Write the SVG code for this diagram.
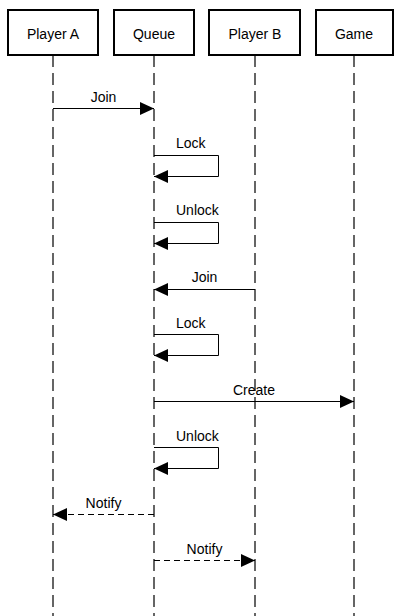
<svg xmlns="http://www.w3.org/2000/svg" width="400" height="616" viewBox="0 0 400 616">
<style>
.box{fill:#fff;stroke:#000;stroke-width:2}
.hd{font-family:"Liberation Sans",Arial,sans-serif;font-size:14px;fill:#000;text-anchor:middle}
.life{stroke:#333;stroke-width:1.5;stroke-dasharray:12,6;fill:none}
.msg{stroke:#000;stroke-width:1;fill:none}
.dash{stroke-dasharray:6,4}
.lb{font-family:"Liberation Sans",Arial,sans-serif;font-size:14px;fill:#000}
.mid{text-anchor:middle}
</style>
<defs>
<marker id="arr" markerUnits="userSpaceOnUse" markerWidth="14" markerHeight="14" viewBox="0 0 13 12" refX="13" refY="6" orient="auto">
<path d="M0,0 L13,6 L0,12 Z" fill="#000"/>
</marker>
</defs>
<g id="lifelines">
<line class="life" x1="53" y1="55" x2="53" y2="616"/>
<line class="life" x1="154" y1="55" x2="154" y2="616"/>
<line class="life" x1="255" y1="55" x2="255" y2="616"/>
<line class="life" x1="354" y1="55" x2="354" y2="616"/>
</g>
<g id="playerA"><rect class="box" x="8" y="10" width="90" height="45"/><text class="hd" x="53" y="39">Player A</text></g>
<g id="queue"><rect class="box" x="114" y="10" width="80" height="45"/><text class="hd" x="154" y="39">Queue</text></g>
<g id="playerB"><rect class="box" x="209" y="10" width="91" height="45"/><text class="hd" x="255" y="39">Player B</text></g>
<g id="game"><rect class="box" x="316" y="10" width="77" height="45"/><text class="hd" x="354" y="39">Game</text></g>
<g id="connectors">
<line class="msg" x1="53" y1="108.5" x2="154" y2="108.5" marker-end="url(#arr)"/>
<text class="lb mid" x="103.5" y="102">Join</text>
<path class="msg" d="M154,155.5 H218.5 V176.5 H154" marker-end="url(#arr)"/>
<text class="lb" x="176" y="148">Lock</text>
<path class="msg" d="M154,222.5 H218.5 V243.5 H154" marker-end="url(#arr)"/>
<text class="lb" x="176" y="215">Unlock</text>
<line class="msg" x1="255" y1="289.5" x2="154" y2="289.5" marker-end="url(#arr)"/>
<text class="lb mid" x="204.5" y="282">Join</text>
<path class="msg" d="M154,334.5 H218.5 V355.5 H154" marker-end="url(#arr)"/>
<text class="lb" x="176" y="328">Lock</text>
<line class="msg" x1="154" y1="401.5" x2="354" y2="401.5" marker-end="url(#arr)"/>
<text class="lb mid" x="254" y="395">Create</text>
<path class="msg" d="M154,447.5 H218.5 V468.5 H154" marker-end="url(#arr)"/>
<text class="lb" x="176" y="441">Unlock</text>
<line class="msg dash" x1="154" y1="514.5" x2="53" y2="514.5" marker-end="url(#arr)"/>
<text class="lb mid" x="103.5" y="508">Notify</text>
<line class="msg dash" x1="154" y1="560.5" x2="255" y2="560.5" marker-end="url(#arr)"/>
<text class="lb mid" x="204.5" y="554">Notify</text>
</g>
</svg>
